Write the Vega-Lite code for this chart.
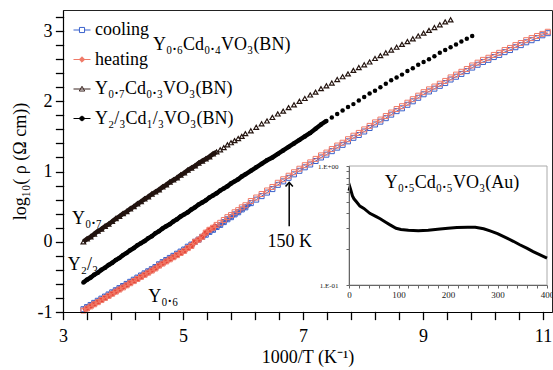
{
"$schema": "https://vega.github.io/schema/vega-lite/v6.json",
"width": 489, "height": 302,
"autosize": {"type": "none"},
"padding": {"left": 63, "top": 10, "right": 1, "bottom": 58},
"background": "white",
"data": {"values": [
{"x":3.34,"a":0.00,"b":-0.58,"c":-0.96,"h":-0.98},
{"x":3.40,"a":0.04,"b":-0.54,"c":-0.93,"h":-0.95},
{"x":3.46,"a":0.07,"b":-0.51,"c":-0.90,"h":-0.92},
{"x":3.52,"a":0.11,"b":-0.47,"c":-0.87,"h":-0.89},
{"x":3.58,"a":0.15,"b":-0.44,"c":-0.84,"h":-0.86},
{"x":3.64,"a":0.18,"b":-0.40,"c":-0.81,"h":-0.83},
{"x":3.70,"a":0.22,"b":-0.37,"c":-0.78,"h":-0.80},
{"x":3.76,"a":0.25,"b":-0.33,"c":-0.75,"h":-0.77},
{"x":3.82,"a":0.29,"b":-0.30,"c":-0.72,"h":-0.74},
{"x":3.88,"a":0.33,"b":-0.26,"c":-0.69,"h":-0.71},
{"x":3.94,"a":0.36,"b":-0.23,"c":-0.66,"h":-0.68},
{"x":4.00,"a":0.40,"b":-0.19,"c":-0.63,"h":-0.65},
{"x":4.06,"a":0.43,"b":-0.16,"c":-0.60,"h":-0.62},
{"x":4.12,"a":0.47,"b":-0.12,"c":-0.57,"h":-0.59},
{"x":4.18,"a":0.50,"b":-0.09,"c":-0.54,"h":-0.56},
{"x":4.24,"a":0.54,"b":-0.05,"c":-0.51,"h":-0.53},
{"x":4.30,"a":0.57,"b":-0.02,"c":-0.48,"h":-0.50},
{"x":4.36,"a":0.61,"b":0.01,"c":-0.45,"h":-0.47},
{"x":4.42,"a":0.64,"b":0.05,"c":-0.42,"h":-0.44},
{"x":4.48,"a":0.68,"b":0.08,"c":-0.39,"h":-0.41},
{"x":4.54,"a":0.71,"b":0.12,"c":-0.36,"h":-0.38},
{"x":4.60,"a":0.74,"b":0.15,"c":-0.32,"h":-0.34},
{"x":4.66,"a":0.78,"b":0.19,"c":-0.29,"h":-0.31},
{"x":4.72,"a":0.81,"b":0.22,"c":-0.26,"h":-0.28},
{"x":4.78,"a":0.85,"b":0.25,"c":-0.23,"h":-0.25},
{"x":4.84,"a":0.88,"b":0.29,"c":-0.20,"h":-0.22},
{"x":4.90,"a":0.91,"b":0.32,"c":-0.17,"h":-0.19},
{"x":4.96,"a":0.95,"b":0.36,"c":-0.14,"h":-0.16},
{"x":5.02,"a":0.98,"b":0.39,"c":-0.11,"h":-0.13},
{"x":5.08,"a":1.02,"b":0.42,"c":-0.07,"h":-0.09},
{"x":5.14,"a":1.05,"b":0.46,"c":-0.04,"h":-0.06},
{"x":5.20,"a":1.08,"b":0.49,"c":0.00,"h":0.00},
{"x":5.26,"a":1.12,"b":0.53,"c":0.03,"h":0.03},
{"x":5.32,"a":1.15,"b":0.56,"c":0.07,"h":0.07},
{"x":5.38,"a":1.18,"b":0.59,"c":0.10,"h":0.13},
{"x":5.44,"a":1.21,"b":0.63,"c":0.14,"h":0.17},
{"x":5.50,"a":1.25,"b":0.66,"c":0.17,"h":0.20},
{"x":5.56,"a":1.28,"b":0.69,"c":0.21,"h":0.24},
{"x":5.62,"a":1.31,"b":0.73,"c":0.24,"h":0.27},
{"x":5.68,"a":1.34,"b":0.76,"c":0.28,"h":0.31},
{"x":5.74,"a":1.38,"b":0.79,"c":0.32,"h":0.35},
{"x":5.80,"a":1.41,"b":0.83,"c":0.35,"h":0.38},
{"x":5.86,"a":1.44,"b":0.86,"c":0.39,"h":0.42},
{"x":5.92,"a":1.47,"b":0.89,"c":0.42,"h":0.45},
{"x":5.98,"a":1.50,"b":0.93,"c":0.46,"h":0.49},
{"x":6.04,"a":1.54,"b":0.96,"c":0.49,"h":0.52},
{"x":6.13,"a":1.58,"b":1.01,"c":0.55,"h":0.58},
{"x":6.22,"a":1.63,"b":1.06,"c":0.60,"h":0.63},
{"x":6.31,"a":1.68,"b":1.11,"c":0.65,"h":0.68},
{"x":6.40,"a":1.72,"b":1.16,"c":0.70,"h":0.73},
{"x":6.49,"a":1.77,"b":1.20,"c":0.75,"h":0.78},
{"x":6.58,"a":1.82,"b":1.25,"c":0.81,"h":0.84},
{"x":6.67,"a":1.86,"b":1.30,"c":0.86,"h":0.89},
{"x":6.76,"a":1.91,"b":1.35,"c":0.91,"h":0.94},
{"x":6.85,"a":1.95,"b":1.40,"c":0.96,"h":0.99},
{"x":6.94,"a":2.00,"b":1.45,"c":1.01,"h":1.04},
{"x":7.03,"a":2.04,"b":1.50,"c":1.06,"h":1.09},
{"x":7.12,"a":2.09,"b":1.55,"c":1.10,"h":1.13},
{"x":7.21,"a":2.13,"b":1.61,"c":1.15,"h":1.18},
{"x":7.30,"a":2.18,"b":1.67,"c":1.20,"h":1.23},
{"x":7.39,"a":2.22,"b":1.72,"c":1.24,"h":1.27},
{"x":7.48,"a":2.26,"b":1.77,"c":1.29,"h":1.32},
{"x":7.57,"a":2.31,"b":1.82,"c":1.34,"h":1.37},
{"x":7.66,"a":2.35,"b":1.87,"c":1.38,"h":1.41},
{"x":7.75,"a":2.39,"b":1.92,"c":1.43,"h":1.46},
{"x":7.84,"a":2.44,"b":1.96,"c":1.48,"h":1.51},
{"x":7.93,"a":2.48,"b":2.01,"c":1.52,"h":1.55},
{"x":8.02,"a":2.52,"b":2.06,"c":1.57,"h":1.60},
{"x":8.11,"a":2.56,"b":2.11,"c":1.62,"h":1.65},
{"x":8.20,"a":2.61,"b":2.15,"c":1.67,"h":1.70},
{"x":8.29,"a":2.65,"b":2.20,"c":1.71,"h":1.74},
{"x":8.38,"a":2.69,"b":2.25,"c":1.76,"h":1.79},
{"x":8.47,"a":2.73,"b":2.30,"c":1.81,"h":1.84},
{"x":8.56,"a":2.77,"b":2.34,"c":1.86,"h":1.89},
{"x":8.65,"a":2.81,"b":2.38,"c":1.90,"h":1.93},
{"x":8.74,"a":2.85,"b":2.43,"c":1.95,"h":1.98},
{"x":8.83,"a":2.89,"b":2.47,"c":2.00,"h":2.03},
{"x":8.92,"a":2.93,"b":2.52,"c":2.05,"h":2.08},
{"x":9.01,"a":2.97,"b":2.56,"c":2.10,"h":2.13},
{"x":9.10,"a":3.01,"b":2.60,"c":2.14,"h":2.17},
{"x":9.19,"a":3.05,"b":2.64,"c":2.18,"h":2.21},
{"x":9.28,"a":3.09,"b":2.69,"c":2.22,"h":2.25},
{"x":9.37,"a":3.13,"b":2.73,"c":2.26,"h":2.29},
{"x":9.46,"a":3.16,"b":2.77,"c":2.31,"h":2.34},
{"x":9.55,"b":2.81,"c":2.35,"h":2.38},
{"x":9.64,"b":2.85,"c":2.39,"h":2.42},
{"x":9.73,"b":2.89,"c":2.43,"h":2.46},
{"x":9.82,"b":2.93,"c":2.48,"h":2.51},
{"x":9.91,"c":2.52,"h":2.55},
{"x":10.00,"c":2.56,"h":2.59},
{"x":10.09,"c":2.59,"h":2.62},
{"x":10.18,"c":2.63,"h":2.66},
{"x":10.27,"c":2.66,"h":2.69},
{"x":10.36,"c":2.70,"h":2.73},
{"x":10.45,"c":2.73,"h":2.76},
{"x":10.54,"c":2.77,"h":2.80},
{"x":10.63,"c":2.80,"h":2.83},
{"x":10.72,"c":2.84,"h":2.87},
{"x":10.81,"c":2.87,"h":2.90},
{"x":10.90,"c":2.90,"h":2.93},
{"x":10.99,"c":2.94,"h":2.96},
{"x":11.08,"c":2.97,"h":2.99}
]},
"layer": [
{
"resolve": {"axis": {"x": "independent", "y": "independent"}},
"layer": [
{"mark": {"type": "line", "stroke": "#3a62cc", "strokeWidth": 1},
 "encoding": {
  "x": {"field": "x", "type": "quantitative", "scale": {"domain": [3, 11.15], "nice": false, "zero": false},
   "axis": {"orient": "bottom", "values": [3,3.4,3.8,4.2,4.6,5,5.4,5.8,6.2,6.6,7,7.4,7.8,8.2,8.6,9,9.4,9.8,10.2,10.6,11],
    "labelExpr": "indexof([3,5,7,9,11], datum.value) >= 0 ? toString(datum.value) : ''", "labelOverlap": false, "labelBound": false,
    "ticks": true, "tickWidth": 1.3, "tickOpacity": 1, "tickColor": "#000000", "tickCap": "square", "tickRound": true, "domain": true, "domainWidth": 1.2,
    "tickSize": 7, "labelPadding": 8, "labelFontSize": 18, "title": "1000/T (K⁻¹)", "titleFontSize": 18, "titlePadding": 3, "zindex": 3}},
  "y": {"field": "c", "type": "quantitative", "scale": {"domain": [-1, 3.3], "nice": false, "zero": false},
   "axis": {"orient": "left", "values": [-1,-0.8,-0.6,-0.4,-0.2,0,0.2,0.4,0.6,0.8,1,1.2,1.4,1.6,1.8,2,2.2,2.4,2.6,2.8,3,3.2],
    "labelExpr": "datum.value == -1 ? '-1' : indexof([0,1,2,3], datum.value) >= 0 ? toString(datum.value) : ''", "labelOverlap": false, "labelBound": false,
    "ticks": true, "tickWidth": 1.3, "tickOpacity": 1, "tickColor": "#000000", "tickCap": "square", "tickRound": true, "domain": true, "domainWidth": 1.2,
    "tickSize": 7, "labelPadding": 4, "labelFontSize": 18, "title": "log₁₀( ρ (Ω cm))", "titleFontSize": 18, "titlePadding": 8, "zindex": 3}}}},
{"transform": [{"filter": "datum.x <= 6.2"}],
 "mark": {"type": "line", "stroke": "#3a62cc", "strokeWidth": 4.5},
 "encoding": {"x": {"field": "x", "type": "quantitative", "axis": null}, "y": {"field": "c", "type": "quantitative", "axis": null}}},
{"mark": {"type": "point", "shape": "square", "filled": false, "stroke": "#3a62cc", "strokeWidth": 1, "size": 25, "opacity": 1},
 "encoding": {"x": {"field": "x", "type": "quantitative", "axis": null}, "y": {"field": "c", "type": "quantitative", "axis": null}}},
{"transform": [{"filter": "datum.x <= 5.6"}],
 "mark": {"type": "line", "stroke": "#e8473a", "strokeWidth": 5},
 "encoding": {"x": {"field": "x", "type": "quantitative", "axis": null}, "y": {"field": "h", "type": "quantitative", "axis": null}}},
{"mark": {"type": "line", "stroke": "#f07a68", "strokeWidth": 1},
 "encoding": {"x": {"field": "x", "type": "quantitative", "axis": null}, "y": {"field": "h", "type": "quantitative", "axis": null}}},
{"mark": {"type": "point", "shape": "square", "filled": false, "stroke": "#f07a68", "strokeWidth": 1, "size": 25, "opacity": 1},
 "encoding": {"x": {"field": "x", "type": "quantitative", "axis": null}, "y": {"field": "h", "type": "quantitative", "axis": null}}},
{"transform": [{"filter": "datum.x <= 7.4"}],
 "mark": {"type": "line", "stroke": "black", "strokeWidth": 4.5},
 "encoding": {"x": {"field": "x", "type": "quantitative", "axis": null}, "y": {"field": "b", "type": "quantitative", "axis": null}}},
{"mark": {"type": "point", "shape": "circle", "filled": true, "fill": "black", "strokeWidth": 0, "size": 20, "opacity": 1},
 "encoding": {"x": {"field": "x", "type": "quantitative", "axis": null}, "y": {"field": "b", "type": "quantitative", "axis": null}}},
{"transform": [{"filter": "datum.x <= 5.6"}],
 "mark": {"type": "line", "stroke": "#1e1210", "strokeWidth": 4.5},
 "encoding": {"x": {"field": "x", "type": "quantitative", "axis": null}, "y": {"field": "a", "type": "quantitative", "axis": null}}},
{"mark": {"type": "point", "shape": "triangle-up", "filled": false, "stroke": "#24140f", "strokeWidth": 1.2, "size": 22, "opacity": 1},
 "encoding": {"x": {"field": "x", "type": "quantitative", "axis": null}, "y": {"field": "a", "type": "quantitative", "axis": null}}},
{"data": {"values": [{}]},
 "mark": {"type": "text", "text": "Y₀.₆Cd₀.₄VO₃(BN)", "align": "left", "baseline": "middle", "fontSize": 18, "font": "Liberation Serif", "color": "black"},
 "encoding": {"x": {"datum": 4.5, "axis": null}, "y": {"datum": 2.8, "axis": null}}},
{"data": {"values": [{}]},
 "mark": {"type": "text", "text": "Y₀.₇", "align": "left", "baseline": "middle", "fontSize": 18, "font": "Liberation Serif", "color": "black"},
 "encoding": {"x": {"datum": 3.15, "axis": null}, "y": {"datum": 0.33, "axis": null}}},
{"data": {"values": [{}]},
 "mark": {"type": "text", "text": "Y₂/₃", "align": "left", "baseline": "middle", "fontSize": 18, "font": "Liberation Serif", "color": "black"},
 "encoding": {"x": {"datum": 3.08, "axis": null}, "y": {"datum": -0.33, "axis": null}}},
{"data": {"values": [{}]},
 "mark": {"type": "text", "text": "Y₀.₆", "align": "left", "baseline": "middle", "fontSize": 18, "font": "Liberation Serif", "color": "black"},
 "encoding": {"x": {"datum": 4.42, "axis": null}, "y": {"datum": -0.79, "axis": null}}},
{"data": {"values": [{}]},
 "mark": {"type": "text", "text": "150 K", "align": "center", "baseline": "middle", "fontSize": 18, "font": "Liberation Serif", "color": "black"},
 "encoding": {"x": {"datum": 6.78, "axis": null}, "y": {"datum": 0.0, "axis": null}}},
{"data": {"values": [{}]},
 "mark": {"type": "rule", "stroke": "black", "strokeWidth": 1.5},
 "encoding": {"x": {"datum": 6.77, "axis": null}, "y": {"datum": 0.22, "axis": null}, "y2": {"datum": 0.83}}},
{"data": {"values": [{}]},
 "mark": {"type": "point", "shape": "M-0.7,0.8L0,0L0.7,0.8", "filled": false, "stroke": "black", "strokeWidth": 1.5, "size": 110, "opacity": 1},
 "encoding": {"x": {"datum": 6.77, "axis": null}, "y": {"datum": 0.845, "axis": null}}},
{"transform": [{"filter": "false"}],
 "mark": {"type": "point", "filled": true, "opacity": 1},
 "encoding": {
  "x": {"field": "x", "type": "quantitative", "axis": null},
  "y": {"field": "c", "type": "quantitative", "axis": null},
  "shape": {"field": "s", "type": "nominal",
   "scale": {"domain": ["cooling", "heating", "Y₀.₇Cd₀.₃VO₃(BN)", "Y₂/₃Cd₁/₃VO₃(BN)"],
    "range": ["M-1,0H-0.3M0.3,0H1M-0.3,-0.3H0.3V0.3H-0.3Z", "M-1,0H1M0,-0.32L0.32,0L0,0.32L-0.32,0Z", "M-1,0H1M0,-0.32L0.32,0.24L-0.32,0.24Z", "M-1,0H1M0.26,0A0.26,0.26,0,1,1,-0.26,0A0.26,0.26,0,1,1,0.26,0Z"]},
   "legend": {"orient": "none", "legendX": 10, "legendY": 11, "title": null, "symbolSize": 289, "labelFontSize": 18, "labelFont": "Liberation Serif", "labelColor": "black", "rowPadding": 11.5, "labelOffset": 4, "symbolStrokeWidth": 1, "padding": 0, "labelLimit": 300, "direction": "vertical"}},
  "stroke": {"field": "s", "type": "nominal",
   "scale": {"domain": ["cooling", "heating", "Y₀.₇Cd₀.₃VO₃(BN)", "Y₂/₃Cd₁/₃VO₃(BN)"], "range": ["#3a62cc", "#f07a68", "#3a2420", "#000000"]}},
  "fill": {"field": "s", "type": "nominal",
   "scale": {"domain": ["cooling", "heating", "Y₀.₇Cd₀.₃VO₃(BN)", "Y₂/₃Cd₁/₃VO₃(BN)"], "range": ["#ffffff", "#f07a68", "#ffffff", "#000000"]}}}}
]
},
{
"resolve": {"axis": {"x": "independent", "y": "independent"}},
"data": {"values": [
{"t":0,"r":0.62},{"t":2,"r":0.66},{"t":4,"r":0.62},{"t":7,"r":0.56},{"t":10,"r":0.53},{"t":15,"r":0.50},
{"t":22,"r":0.46},{"t":30,"r":0.44},{"t":42,"r":0.40},{"t":55,"r":0.375},{"t":63,"r":0.36},{"t":75,"r":0.335},
{"t":83,"r":0.32},{"t":95,"r":0.30},{"t":105,"r":0.293},{"t":120,"r":0.288},{"t":140,"r":0.286},{"t":160,"r":0.289},
{"t":184,"r":0.295},{"t":200,"r":0.30},{"t":218,"r":0.304},{"t":240,"r":0.306},{"t":255,"r":0.305},{"t":272,"r":0.297},
{"t":285,"r":0.285},{"t":300,"r":0.27},{"t":319,"r":0.248},{"t":332,"r":0.233},{"t":345,"r":0.218},{"t":360,"r":0.203},
{"t":372,"r":0.191},{"t":386,"r":0.179},{"t":400,"r":0.168}
]},
"layer": [
{"data": {"values": [{}]},
 "mark": {"type": "rect", "fill": "white", "stroke": "#aaaaaa", "strokeWidth": 1},
 "encoding": {
  "x": {"datum": 0, "type": "quantitative", "scale": {"domain": [0, 400], "range": [286, 484], "nice": false, "zero": false}, "axis": null},
  "x2": {"datum": 400},
  "y": {"datum": 0.1, "type": "quantitative", "scale": {"type": "log", "domain": [0.1, 1], "range": [275, 156], "nice": false}, "axis": null},
  "y2": {"datum": 1}}},
{"mark": {"type": "line", "stroke": "black", "strokeWidth": 3},
 "encoding": {
  "x": {"field": "t", "type": "quantitative", "scale": {"domain": [0, 400], "range": [286, 484], "nice": false, "zero": false},
   "axis": {"orient": "bottom", "offset": -27, "values": [0,20,40,60,80,100,120,140,160,180,200,220,240,260,280,300,320,340,360,380,400],
    "labelExpr": "datum.value % 100 == 0 ? toString(datum.value) : ''", "labelOverlap": false, "labelBound": false,
    "ticks": true, "tickSize": 3, "tickWidth": 1, "tickOpacity": 1, "labelFontSize": 9, "labelPadding": 2,
    "domainColor": "#666666", "tickColor": "#666666", "labelColor": "#222222", "title": null, "zindex": 3}},
  "y": {"field": "r", "type": "quantitative", "scale": {"type": "log", "domain": [0.1, 1], "range": [275, 156], "nice": false},
   "axis": {"orient": "left", "offset": -286, "values": [0.1,0.2,0.3,0.4,0.5,0.6,0.7,0.8,0.9,1],
    "labelExpr": "datum.value == 1 ? '1.E+00' : datum.value == 0.1 ? '1.E-01' : ''", "labelOverlap": false, "labelBound": false,
    "ticks": true, "tickSize": 3, "tickWidth": 1, "tickOpacity": 1, "labelFontSize": 7, "labelPadding": 8,
    "domainColor": "#666666", "tickColor": "#666666", "labelColor": "#222222", "title": null, "zindex": 3}}}},
{"data": {"values": [{}]},
 "mark": {"type": "text", "text": "Y₀.₅Cd₀.₅VO₃(Au)", "align": "center", "baseline": "middle", "fontSize": 18, "font": "Liberation Serif", "color": "black"},
 "encoding": {"x": {"datum": 208, "axis": null}, "y": {"datum": 0.72, "axis": null}}}
]
}
],
"resolve": {"scale": {"x": "independent", "y": "independent"}},
"config": {
 "font": "Liberation Serif",
 "view": {"stroke": "#222222", "strokeWidth": 1},
 "axis": {"labelFont": "Liberation Serif", "titleFont": "Liberation Serif", "labelColor": "black", "titleColor": "black", "domainColor": "black", "tickColor": "black", "titleFontWeight": "normal", "labelFlush": false, "grid": false, "labelOverlap": false, "ticks": true},
 "legend": {"labelFont": "Liberation Serif"}
}
}
